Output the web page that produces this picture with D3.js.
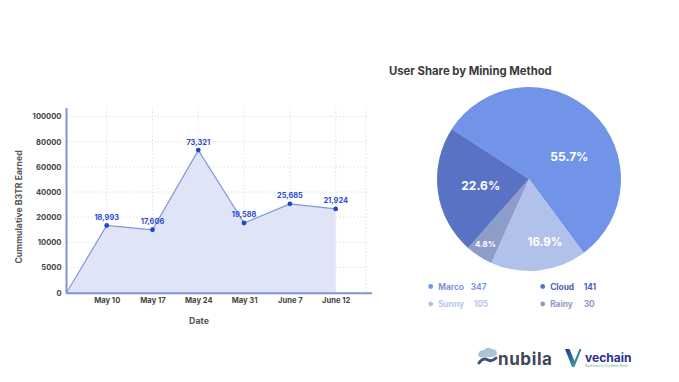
<!DOCTYPE html>
<html>
<head>
<meta charset="utf-8">
<script src="https://cdn.jsdelivr.net/npm/d3@7"></script>
<style>
  html, body { margin: 0; padding: 0; background: #ffffff; }
  svg { display: block; font-family: Inter, "Open Sans", sans-serif; }
</style>
</head>
<body>
<svg id="chart" width="679" height="382"></svg>
<script>
// ---------- data ----------
const dates = ["May 10", "May 17", "May 24", "May 31", "June 7", "June 12"];
const earned = [16700, 15000, 73300, 17700, 30600, 26600];          // plotted positions
const earnedLabels = ["18,993", "17,606", "73,321", "19,588", "25,685", "21,924"];
const yTicks = [0, 5000, 10000, 20000, 40000, 60000, 80000, 100000];

const methods = ["Marco", "Sunny", "Rainy", "Cloud"];
const users = [347, 105, 30, 141];
const legendOrder = ["Marco", "Cloud", "Sunny", "Rainy"];

// ---------- setup ----------
const svg = d3.select("#chart");
const plotLeft = 66.5, plotBottom = 292.7, plotTop = 116.5, plotRight = 372;

// ---------- line chart ----------
const y = d3.scaleLinear()
  .domain(yTicks)
  .range(yTicks.map((_, i) => plotBottom - i * (plotBottom - plotTop) / (yTicks.length - 1)));
const x = d3.scalePoint().domain(dates).range([106.7, 335.7]);

const g = svg.append("g");

// grid
g.selectAll(".hgrid").data(yTicks.slice(1)).join("line")
  .attr("x1", plotLeft).attr("x2", 368)
  .attr("y1", d => y(d)).attr("y2", d => y(d))
  .attr("stroke", "#d9d9d9").attr("stroke-width", 0.8).attr("stroke-dasharray", "1.5,2");
g.selectAll(".vgrid").data(dates).join("line")
  .attr("x1", d => x(d)).attr("x2", d => x(d))
  .attr("y1", 108).attr("y2", plotBottom)
  .attr("stroke", "#d9d9d9").attr("stroke-width", 0.8).attr("stroke-dasharray", "1.5,2");
g.append("line").attr("x1", 366).attr("x2", 366).attr("y1", 108).attr("y2", plotBottom)
  .attr("stroke", "#d9d9d9").attr("stroke-width", 0.8).attr("stroke-dasharray", "1.5,2");

// series with starting origin
const pts = [{ px: plotLeft, v: 0 }].concat(dates.map((d, i) => ({ px: x(d), v: earned[i] })));

g.append("path").datum(pts)
  .attr("d", d3.area().x(d => d.px).y0(plotBottom).y1(d => y(d.v)))
  .attr("fill", "#dfe5f6");
g.append("path").datum(pts)
  .attr("d", d3.line().x(d => d.px).y(d => y(d.v)))
  .attr("fill", "none").attr("stroke", "#8096d8").attr("stroke-width", 1.2);

g.selectAll(".dot").data(dates).join("circle")
  .attr("cx", d => x(d)).attr("cy", (d, i) => y(earned[i])).attr("r", 2.4)
  .attr("fill", "#1f45cf");
g.selectAll(".vlab").data(dates).join("text")
  .attr("x", d => x(d)).attr("y", (d, i) => y(earned[i]) - 5.5)
  .attr("text-anchor", "middle").attr("font-size", 7.4).attr("font-weight", 700)
  .attr("fill", "#2b4bcf").text((d, i) => earnedLabels[i]);

// axes
const yAxis = g.append("g").attr("transform", `translate(${plotLeft},0)`)
  .call(d3.axisLeft(y).tickValues(yTicks).tickSize(0).tickPadding(5).tickFormat(d3.format("d")));
yAxis.select(".domain").remove();
yAxis.selectAll("text").attr("font-size", 7.6).attr("font-weight", 700).attr("fill", "#444")
  .attr("font-family", "Inter, sans-serif");
const xAxis = g.append("g").attr("transform", `translate(0,${plotBottom})`)
  .call(d3.axisBottom(x).tickSize(0).tickPadding(5));
xAxis.select(".domain").remove();
xAxis.selectAll("text").attr("font-size", 7.6).attr("font-weight", 700).attr("fill", "#444")
  .attr("font-family", "Inter, sans-serif");

g.append("line").attr("x1", plotLeft).attr("x2", plotLeft).attr("y1", 108).attr("y2", plotBottom + 1)
  .attr("stroke", "#7f93d6").attr("stroke-width", 2);
g.append("line").attr("x1", plotLeft).attr("x2", plotRight).attr("y1", plotBottom + 0.5).attr("y2", plotBottom + 0.5)
  .attr("stroke", "#7f93d6").attr("stroke-width", 2);

g.append("text").attr("transform", "translate(22,207) rotate(-90)")
  .attr("text-anchor", "middle").attr("font-size", 8.7).attr("font-weight", 700).attr("fill", "#555")
  .text("Cummulative B3TR Earned");
g.append("text").attr("x", 199).attr("y", 324)
  .attr("text-anchor", "middle").attr("font-size", 8.8).attr("font-weight", 700).attr("fill", "#555")
  .text("Date");

// ---------- pie ----------
const colors = { Marco: "#7294e8", Sunny: "#b2c1eb", Rainy: "#8e9cca", Cloud: "#5a72c3" };
const legendColors = { Marco: "#7b96e2", Sunny: "#b8c5ee", Rainy: "#8e98c6", Cloud: "#4c61b2" };
const cx = 529, cy = 179, R = 92;
const total = d3.sum(users);
const start = -57 * Math.PI / 180;
const pie = d3.pie().sort(null).startAngle(start).endAngle(start + 2 * Math.PI);
const arcs = pie(users);
const arc = d3.arc().innerRadius(0).outerRadius(R);
const pg = svg.append("g").attr("transform", `translate(${cx},${cy})`);
pg.selectAll("path").data(arcs).join("path")
  .attr("d", arc).attr("fill", (d, i) => colors[methods[i]]);

const labelR = [0.5, 0.71, 0.85, 0.53];
const labelShift = [18, -8, 1, 0];
const labelSize = [12, 11.5, 8, 12];
pg.selectAll(".plab").data(arcs).join("text")
  .attr("transform", (d, i) => {
    const a = (d.startAngle + d.endAngle) / 2 + labelShift[i] * Math.PI / 180;
    const r = R * labelR[i];
    return `translate(${Math.sin(a) * r},${-Math.cos(a) * r})`;
  })
  .attr("text-anchor", "middle").attr("dominant-baseline", "central")
  .attr("font-size", (d, i) => labelSize[i]).attr("font-weight", 700).attr("fill", "#ffffff")
  .text(d => (d.value / total * 100).toFixed(1) + "%");

svg.append("text").attr("x", 389).attr("y", 75)
  .attr("font-size", 11.3).attr("font-weight", 700).attr("fill", "#3a3a3a")
  .text("User Share by Mining Method");

// legend
const legX = [430.7, 542.7], legY = [286.5, 304];
legendOrder.forEach((m, k) => {
  const col = k % 2, row = Math.floor(k / 2);
  const i = methods.indexOf(m);
  const lx = legX[col], ly = legY[row];
  svg.append("circle").attr("cx", lx).attr("cy", ly).attr("r", 2.4).attr("fill", colors[m]);
  svg.append("text").attr("x", lx + 7.5).attr("y", ly).attr("dominant-baseline", "central")
    .attr("font-size", 8.3).attr("font-weight", 700).attr("fill", legendColors[m]).text(m);
  svg.append("text").attr("x", lx + (col === 0 ? (row === 0 ? 40 : 43) : 41))
    .attr("y", ly).attr("dominant-baseline", "central")
    .attr("font-size", 8.3).attr("font-weight", 700).attr("fill", legendColors[m]).text(users[i]);
});

// ---------- logos ----------
const lg = svg.append("g");
lg.append("path").attr("d", "M478,356 q0,-6 6,-6 q3,-4 8,-1 q5,0 5,5 q-2,3 -6,3 l-11,0 z")
  .attr("fill", "#a9c4d8");
lg.append("path").attr("d", "M479,363 q4,-6 9,-3 q4,2 8,-2")
  .attr("fill", "none").attr("stroke", "#3f5370").attr("stroke-width", 3).attr("stroke-linecap", "round");
lg.append("text").attr("x", 498).attr("y", 365).attr("font-size", 17).attr("font-weight", 700)
  .attr("fill", "#3d4759").attr("letter-spacing", 0.6).text("nubila");
const grad = svg.append("defs").append("linearGradient").attr("id", "vg")
  .attr("x1", "0").attr("y1", "0").attr("x2", "1").attr("y2", "1");
grad.append("stop").attr("offset", "0").attr("stop-color", "#2a2f8f");
grad.append("stop").attr("offset", "1").attr("stop-color", "#39c2a8");
lg.append("path").attr("d", "M565,349 l4.5,0 l5,12 l5,-12 l2,0 l-7,18 l-2.5,0 z").attr("fill", "url(#vg)");
lg.append("text").attr("x", 585).attr("y", 362).attr("font-size", 12).attr("font-weight", 700)
  .attr("fill", "#2b2d8c").text("vechain");
lg.append("text").attr("x", 585).attr("y", 367).attr("font-size", 2.8)
  .attr("fill", "#4cb87a").text("Blockchain For Our Better World");
</script>
</body>
</html>
